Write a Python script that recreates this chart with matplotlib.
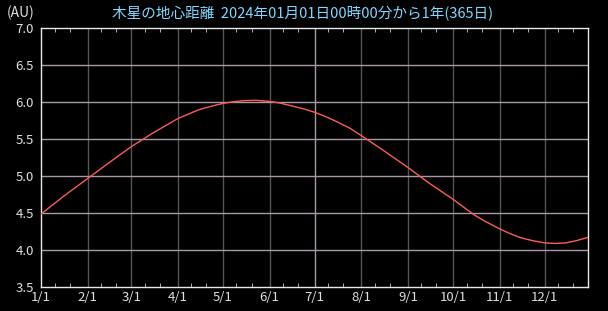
import numpy as np
import matplotlib
matplotlib.use('Agg')
from matplotlib import pyplot as plt
from matplotlib.ticker import FixedLocator

plt.rcParams['font.family'] = ['Noto Sans CJK JP', 'DejaVu Sans']

# 日数（1/1 = 0）と地心距離 (AU)
days = [0, 15, 31, 45, 60, 74, 91, 105, 113, 121, 128, 135, 143, 152, 159, 166,
        174, 182, 189, 196, 205, 213, 227, 244, 258, 274, 288, 296, 305, 312,
        319, 327, 335, 342, 349, 356, 364]
dist = [4.49, 4.73, 4.97, 5.18, 5.40, 5.58, 5.78, 5.90, 5.945, 5.985, 6.008, 6.022, 6.027, 6.012, 5.99, 5.955,
        5.915, 5.865, 5.81, 5.745, 5.655, 5.55, 5.36, 5.12, 4.91, 4.69, 4.48, 4.385, 4.29, 4.225,
        4.17, 4.13, 4.10, 4.093, 4.10, 4.13, 4.176]

month_days = [0, 31, 60, 91, 121, 152, 182, 213, 244, 274, 305, 335]
month_labels = ['1/1', '2/1', '3/1', '4/1', '5/1', '6/1', '7/1', '8/1', '9/1', '10/1', '11/1', '12/1']
y_ticks = [3.5, 4.0, 4.5, 5.0, 5.5, 6.0, 6.5, 7.0]

minor_days = []
for md in month_days:
    minor_days += [md + 9, md + 19]

fig = plt.figure(figsize=(6.08, 3.11), dpi=100, facecolor='black')
ax = fig.add_axes([41 / 608, (311 - 287.3) / 311, (588.3 - 41) / 608, (287.3 - 28.3) / 311])
ax.set_facecolor('black')

# グリッド
for md in month_days[1:]:
    c = '#a898a8' if md == 182 else '#555555'
    ax.axvline(md, color=c, lw=1, zorder=1)
for yv in y_ticks[1:-1]:
    ax.axhline(yv, color='#a898a8', lw=1, zorder=1)

ax.plot(days, dist, color='#ff5a5a', lw=1, zorder=3)

ax.set_xlim(0, 364)
ax.set_ylim(3.5, 7.0)
ax.set_xticks(month_days)
ax.set_xticklabels(month_labels)
ax.set_yticks(y_ticks)
ax.set_yticklabels([f'{v:.1f}' for v in y_ticks])
ax.xaxis.set_minor_locator(FixedLocator(minor_days))
ax.tick_params(axis='x', which='major', length=0, pad=3, colors='#e0e0e0', labelsize=9.5)
ax.tick_params(axis='y', which='major', length=0, pad=5, colors='#e0e0e0', labelsize=9.5)
ax.tick_params(axis='x', which='minor', direction='in', length=3, top=True, bottom=True, color='#c8c8c8')
for s in ax.spines.values():
    s.set_color('#e8e8e8')
    s.set_linewidth(1)

fig.text(7 / 608, 1 - 13 / 311, '(AU)', color='#e0e0e0', fontsize=10, va='center', ha='left')
fig.text(303 / 608, 1 - 14 / 311, '木星の地心距離  2024年01月01日00時00分から1年(365日)',
         color='#80d8ff', fontsize=10.5, va='center', ha='center')

fig.savefig('out.png', dpi=100, facecolor='black')
